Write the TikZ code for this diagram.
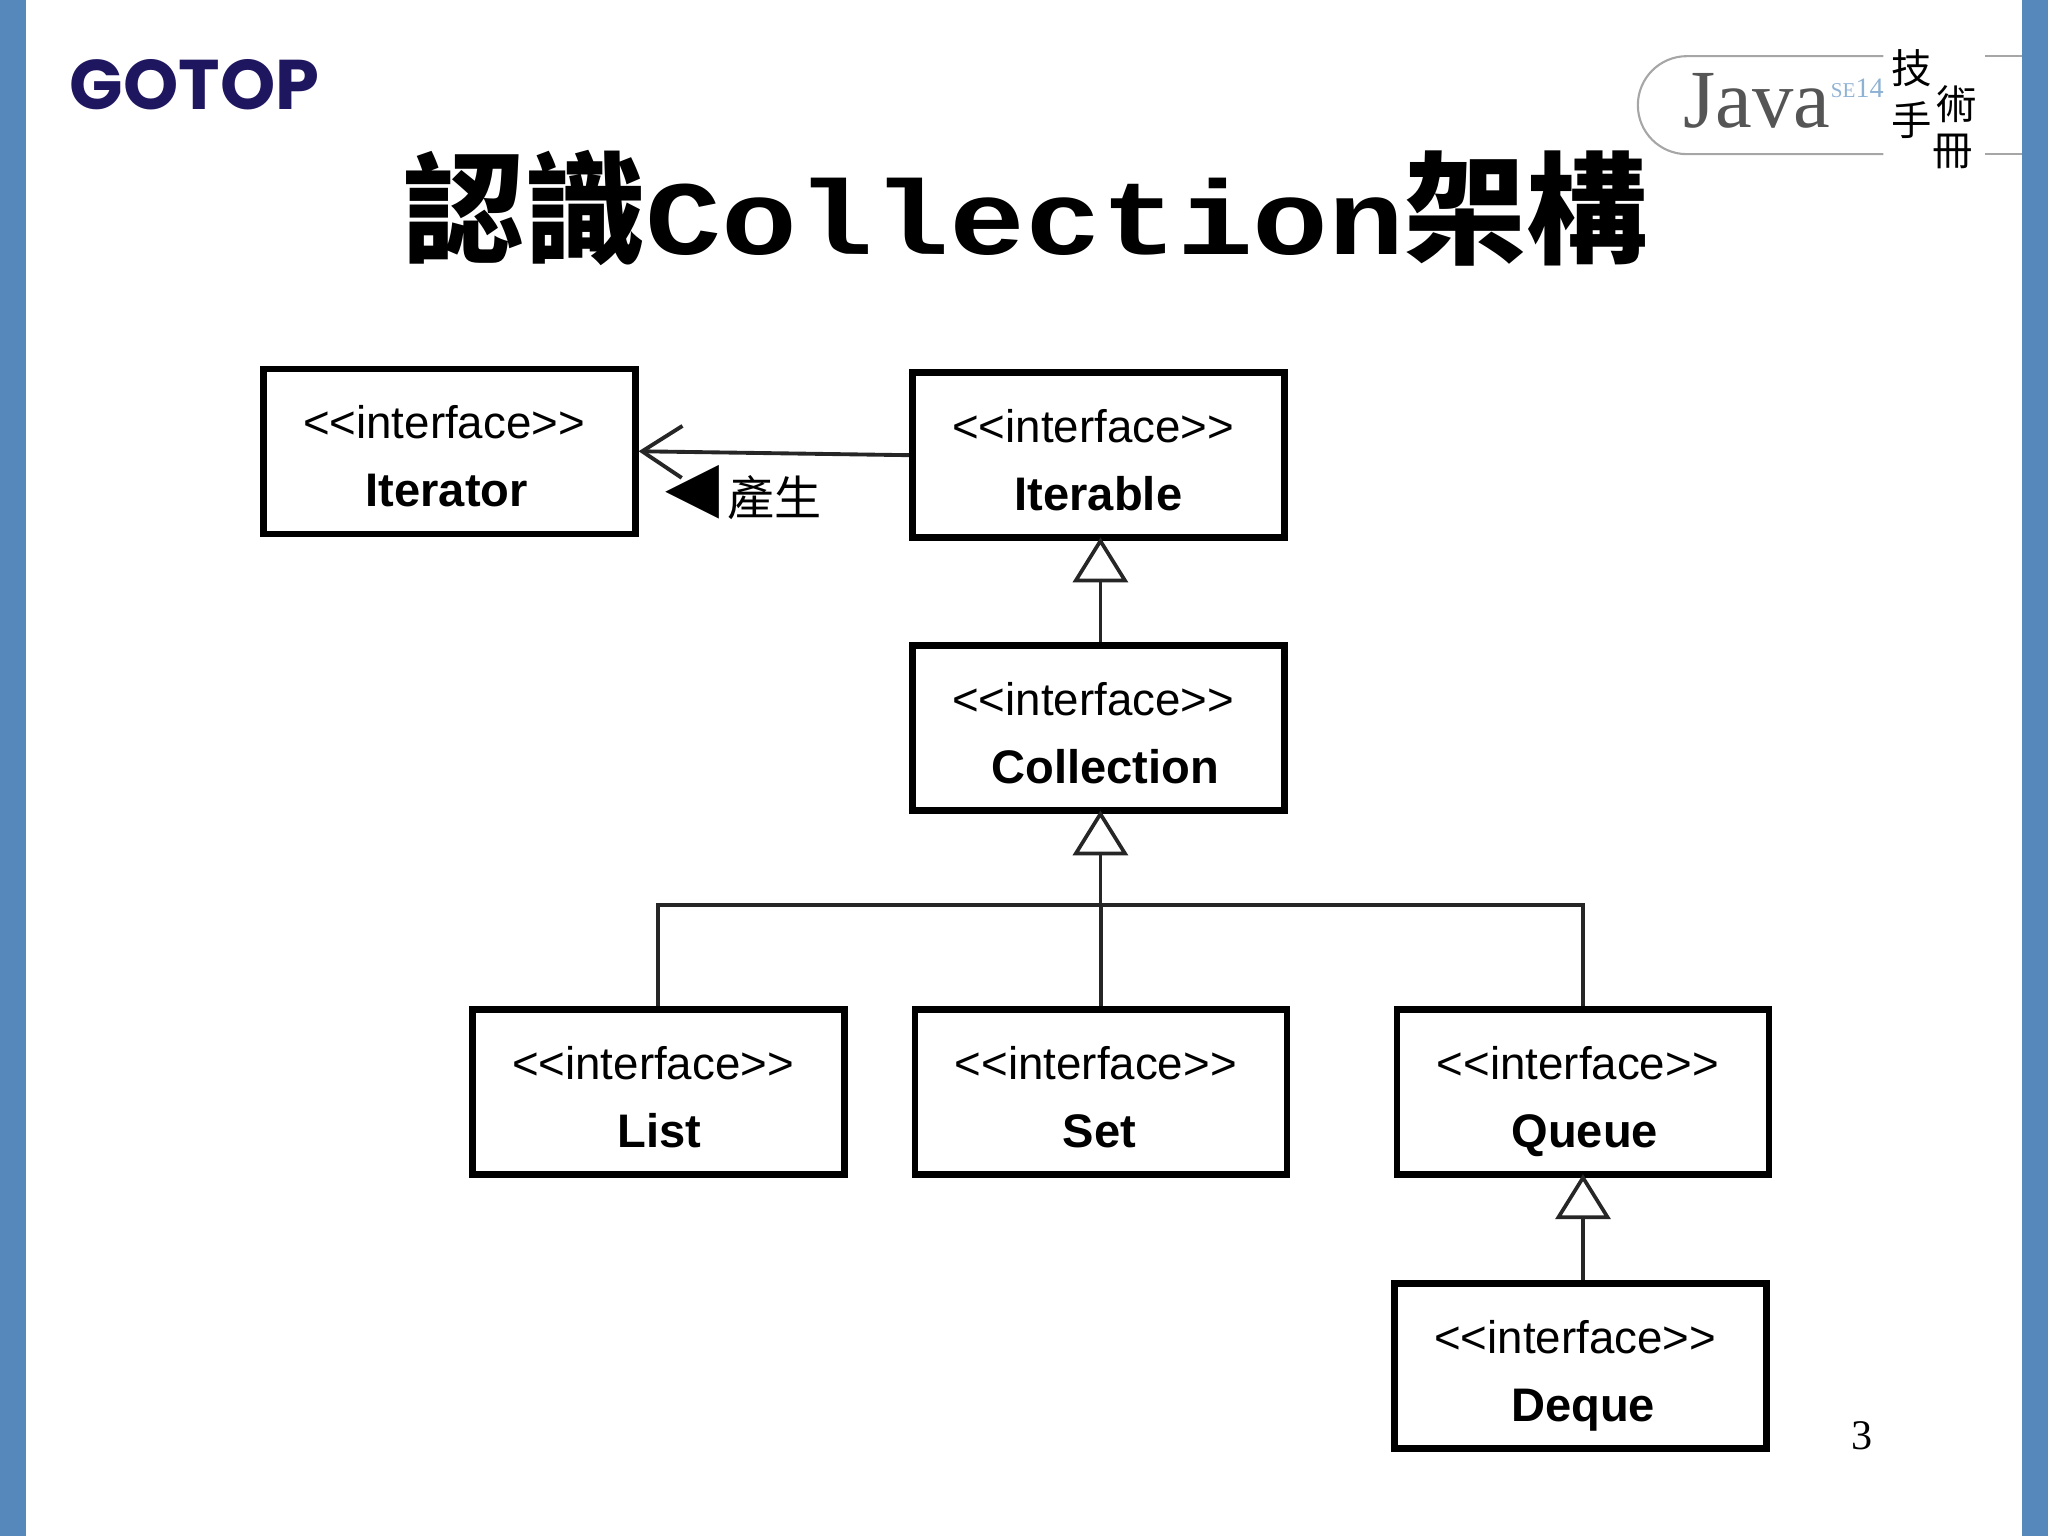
\documentclass[tikz,border=0pt]{standalone}
\usepackage{fontspec}
\setmainfont{Liberation Sans}
\newfontfamily\cjk{Noto Sans CJK TC}
\newfontfamily\titlemono[FakeStretch=1.2]{Liberation Mono}
\newfontfamily\serifface{Liberation Serif}
\newfontfamily\logoface{Poppins}
\newfontfamily\glyphface{DejaVu Sans}
\usetikzlibrary{arrows.meta,positioning}
\definecolor{sidebar}{HTML}{5688BC}
\definecolor{logonavy}{HTML}{1F1660}
\definecolor{javagrey}{HTML}{555555}
\definecolor{sepale}{HTML}{8FB2D4}
\newcommand{\iface}[2][0pt]{\hspace*{-3pt}\rule{0pt}{16pt}<{}<interface>{}>\\\hspace*{#1}\rule[-3.7pt]{0pt}{3.7pt}{\bfseries\fontsize{13.4}{19.3}\selectfont #2}}
\tikzset{
  umlbox/.style={draw=black,line width=1.85pt,fill=white,minimum width=3.72cm,minimum height=1.65cm,
    inner sep=0pt,align=center,font=\fontsize{13}{19.3}\selectfont},
  inherit/.style={draw=black!85,line width=1.05pt,shorten >=-1pt,-{Triangle[open,fill=white,length=0.45cm,width=0.55cm]}},
  uses/.style={draw=black!85,line width=1.1pt,-{Straight Barb[length=0.4cm,width=0.52cm]}},
  bus/.style={draw=black!85,line width=1.05pt},
  hand/.style={font=\cjk\fontsize{11.5}{12}\selectfont,inner sep=0pt},
}
\begin{document}
\begin{tikzpicture}[x=0.013061cm,y=-0.013061cm]
    \useasboundingbox (0,0) rectangle (1568,1176);
    %% slide frame
    \fill[sidebar] (0,0) rectangle (20,1176);
    \fill[sidebar] (1548,0) rectangle (1568,1176);
    \node[text=logonavy,inner sep=0pt,anchor=base,font=\logoface\bfseries\fontsize{20}{21}\selectfont] (gotop) at (149,84) {GOTOP};
    %% java badge
    \draw[black!35,line width=0.6pt] (1442,43) -- (1291.5,43) arc[start angle=90,end angle=270,radius=0.49cm] -- (1442,118);
    \draw[black!35,line width=0.6pt] (1520,43) -- (1548,43) (1520,118) -- (1548,118);
    \node[text=javagrey,inner sep=0pt,anchor=base,font=\serifface\fontsize{23.5}{26}\selectfont] (java) at (1345,98) {Java};
    \node[text=sepale,inner sep=0pt,anchor=base,font=\serifface\fontsize{8}{10}\selectfont] (se) at (1422,75) {{\fontsize{6}{8}\selectfont SE}14};
    \node[hand] (hand1) at (1464,52) {技};
    \node[hand] (hand2) at (1498,80) {術};
    \node[hand] (hand3) at (1464,92) {手};
    \node[hand] (hand4) at (1495,116) {冊};
    %% title
    \node[inner sep=0pt,anchor=base,font=\bfseries] (title) at (785,195) {{\fontsize{34.5}{40}\selectfont\cjk 認識}{\fontsize{30}{40}\selectfont\titlemono Collection}{\fontsize{34.5}{40}\selectfont\cjk 架構}};
    %% boxes
    \node[umlbox] (iterator) at (344,345.5) {\iface[-1.5pt]{Iterator}};
    \node[umlbox] (iterable) at (841,348.5) {\iface{Iterable}};
    \node[umlbox] (collection) at (841,557.5) {\iface[4pt]{Collection}};
    \node[umlbox] (list) at (504,836) {\iface[0.5pt]{List}};
    \node[umlbox] (set) at (843,836) {\iface[-1pt]{Set}};
    \node[umlbox] (queue) at (1212,836) {\iface[1pt]{Queue}};
    \node[umlbox] (deque) at (1210,1046) {\iface[1.5pt]{Deque}};
    %% connectors
    \draw[uses] (iterable.west) -- (iterator.east);
    \node[inner sep=0pt,font=\glyphface\fontsize{20}{21}\selectfont] (mark) at (530,377) {◀};
    \node[inner sep=0pt,right=2pt of mark,yshift=-1.5pt,font=\cjk\fontsize{13.4}{14}\selectfont] (made) {產生};
    \coordinate (busjoin) at (842.5,693);
    \draw[inherit] (busjoin|-collection.north) -- (busjoin|-iterable.south);
    \draw[inherit] (busjoin) -- (busjoin|-collection.south);
    \draw[bus] (list.north) |- (busjoin);
    \draw[bus] (queue.north) |- (busjoin);
    \draw[bus] (set.north) -- (set.north|-busjoin);
    \draw[inherit] (queue.south|-deque.north) -- (queue.south);
    \node[inner sep=0pt,font=\serifface\fontsize{12}{12}\selectfont] (pageno) at (1426,1099) {3};
\end{tikzpicture}
\end{document}
